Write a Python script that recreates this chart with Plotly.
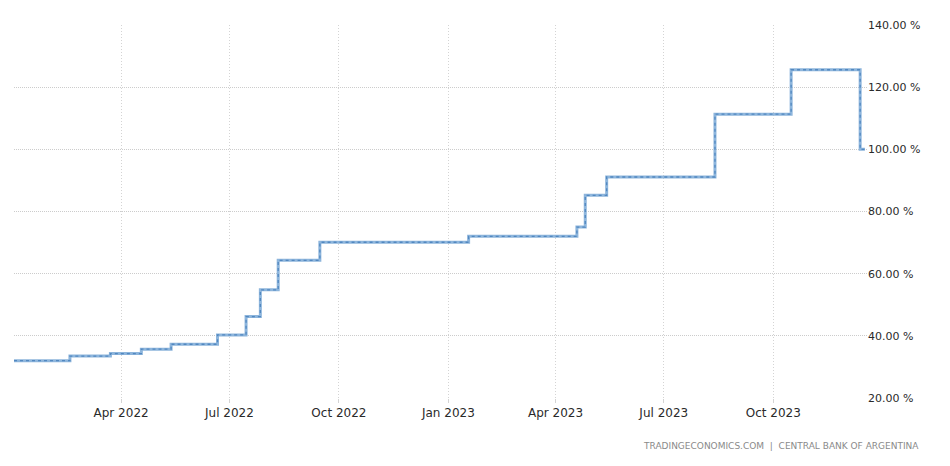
import plotly.graph_objects as go

# Step-change dates and the rate level that starts on each date (percent)
dates = [
    "2022-01-01", "2022-02-17", "2022-03-23", "2022-04-18", "2022-05-13",
    "2022-06-21", "2022-07-15", "2022-07-27", "2022-08-11", "2022-09-15",
    "2023-01-18", "2023-04-19", "2023-04-26", "2023-05-14", "2023-08-13",
    "2023-10-16", "2023-12-13", "2023-12-17",
]
rates = [
    32.0, 33.5, 34.3, 35.7, 37.3,
    40.3, 46.2, 54.8, 64.3, 70.1,
    72.0, 75.0, 85.2, 91.1, 111.3,
    125.6, 100.0, 100.0,
]

x_tick_vals = ["2022-04-01", "2022-07-01", "2022-10-01", "2023-01-01",
               "2023-04-01", "2023-07-01", "2023-10-01"]
x_tick_text = ["Apr 2022", "Jul 2022", "Oct 2022", "Jan 2023",
               "Apr 2023", "Jul 2023", "Oct 2023"]
y_tick_vals = [20, 40, 60, 80, 100, 120, 140]
y_tick_text = [f"{v:.2f} %" for v in y_tick_vals]

# page body has an 8px margin; compensate so the plot lands where the reference has it
W, H = 942, 458
ML, MR, MT, MB = 6, 83, 17, 68
plot_w = W - ML - MR
plot_h = H - MT - MB

fig = go.Figure()
fig.add_trace(go.Scatter(
    x=dates, y=rates, mode="lines", line_shape="hv",
    line=dict(color="#8db5dc", width=3), hoverinfo="skip", showlegend=False,
))
fig.add_trace(go.Scatter(
    x=dates, y=rates, mode="lines", line_shape="hv",
    line=dict(color="#5288c0", width=1.3, dash="dot"), showlegend=False,
))

fig.update_layout(
    width=W, height=H,
    margin=dict(l=ML, r=MR, t=MT, b=MB),
    paper_bgcolor="white", plot_bgcolor="white",
    font=dict(family="DejaVu Sans", color="#333333"),
    xaxis=dict(
        range=["2022-01-01", "2023-12-18 18:00"],
        tickvals=x_tick_vals, ticktext=x_tick_text,
        tickfont=dict(size=12, color="#2a2a2a"),
        showgrid=True, gridcolor="#d4d4d4", griddash="1px,2px", gridwidth=1,
        ticks="outside", ticklen=4, tickcolor="#d4d4d4",
        showline=False, zeroline=False,
    ),
    yaxis=dict(
        side="right", range=[20, 140],
        tickvals=y_tick_vals, ticktext=y_tick_text,
        tickfont=dict(size=11, color="#2a2a2a"),
        showgrid=True, gridcolor="#cccccc", griddash="1px,1px", gridwidth=1,
        showline=False, zeroline=False, ticks="",
    ),
    annotations=[dict(
        text="TRADINGECONOMICS.COM  |  CENTRAL BANK OF ARGENTINA",
        xref="paper", yref="paper", x=(921 - 14) / plot_w,
        y=-(446 - 398) / plot_h,
        xanchor="right", yanchor="middle", showarrow=False,
        font=dict(size=9, color="#8a8a8a", family="DejaVu Sans"),
    )],
)

fig.write_html("out.html")
